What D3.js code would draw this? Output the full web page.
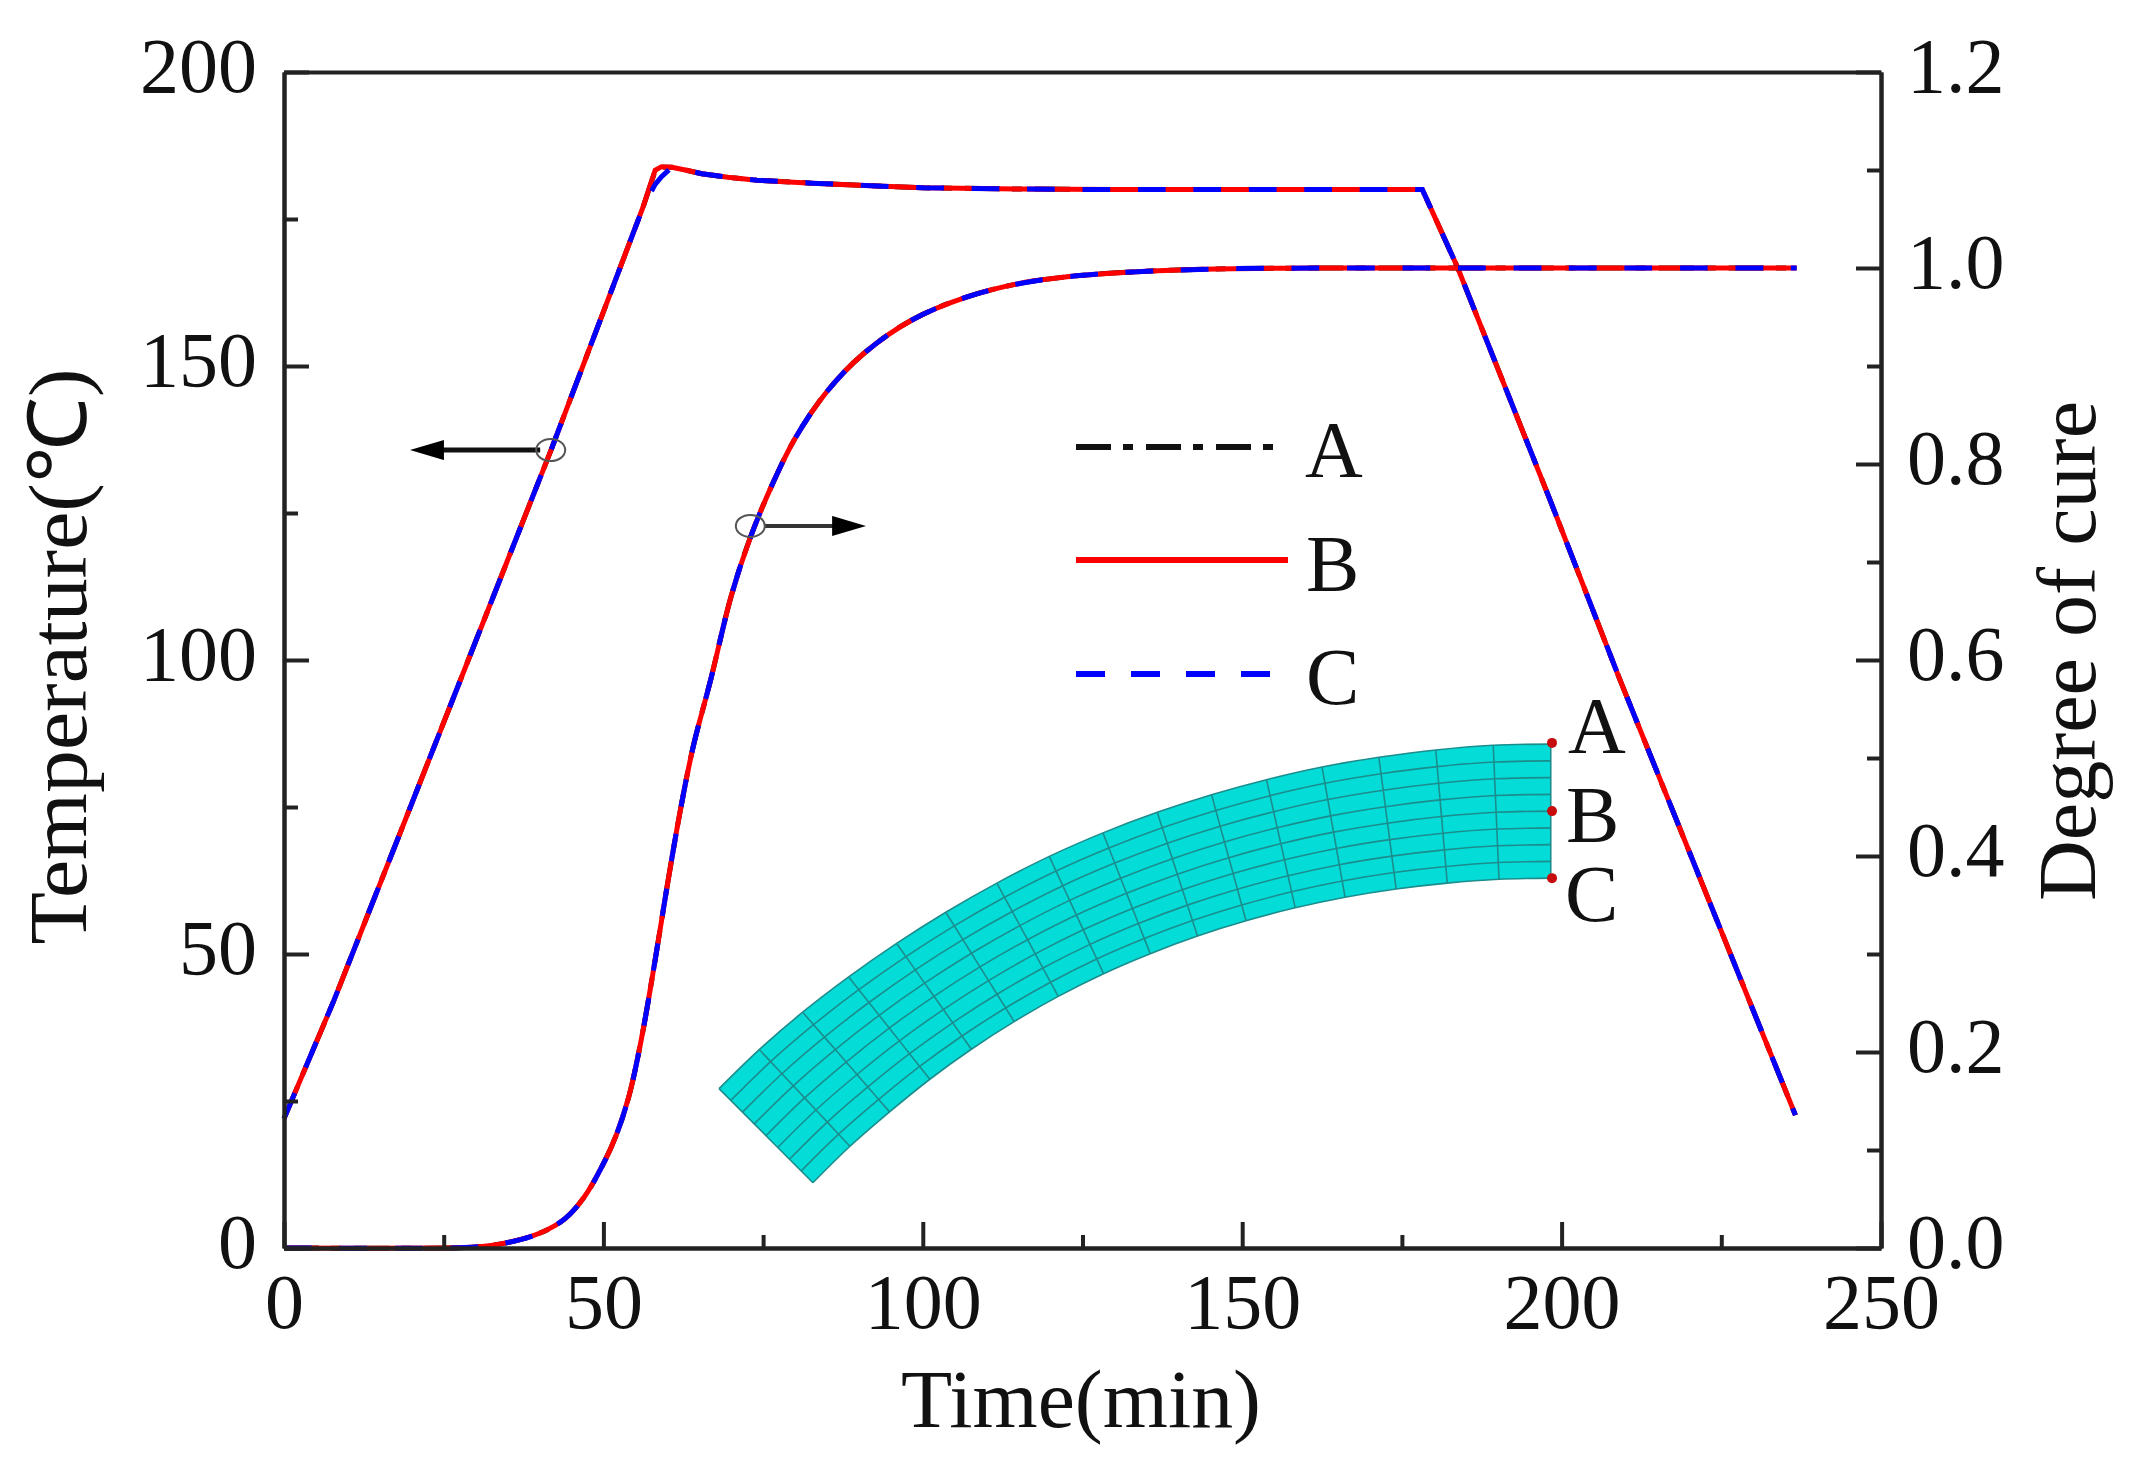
<!DOCTYPE html>
<html>
<head>
<meta charset="utf-8">
<script src="https://cdn.jsdelivr.net/npm/d3@7"></script>
<style>
  body { margin: 0; background: #fff; }
  text { font-family: "Liberation Serif", serif; fill: #111; }
</style>
</head>
<body>
<svg id="chart" width="2139" height="1476"></svg>
<script>
// temperature curves (min, deg C)
var tempTime = [0, 7.85, 20, 41.8, 56.2, 58.1, 59.1, 60.7, 63, 65.4, 69.5, 74, 82.6, 91, 100, 115, 130, 178.2, 183.7, 198.2, 209, 236.6];
var tempA = [22, 42.2, 75.6, 135.7, 177, 183.2, 183.8, 183.8, 183.3, 182.7, 182.1, 181.6, 181.1, 180.7, 180.3, 180.1, 180, 180, 166.8, 127.2, 97, 22.6];
var tempB = [22, 42.2, 75.6, 135.7, 177, 183.3, 183.9, 183.8, 183.3, 182.7, 182.1, 181.6, 181.1, 180.7, 180.3, 180.1, 180, 180, 166.8, 127.2, 97, 22.6];
var tempC = [22, 42.2, 75.6, 135.7, 177, 180.9, 182.2, 183.8, 183.3, 182.7, 182.1, 181.6, 181.1, 180.7, 180.3, 180.1, 180, 180, 166.8, 127.2, 97, 22.6];

// degree of cure curves
var cureTime = [0, 25, 30, 35, 40, 44, 47, 50, 52, 54, 56, 58, 60, 62, 64, 66.8, 70, 73, 76.5, 80, 85, 90.8, 98.3, 106.7, 115, 124, 132.8, 145.9, 165.3, 200, 236.8];
var cureA = [0, 0, 0.001, 0.0055, 0.015, 0.03, 0.052, 0.086, 0.115, 0.155, 0.215, 0.29, 0.37, 0.445, 0.51, 0.58, 0.665, 0.725, 0.78, 0.826, 0.874, 0.913, 0.947, 0.97, 0.984, 0.992, 0.996, 0.999, 1, 1, 1];
var cureB = cureA.slice();
var cureC = cureA.slice();

var seriesNames = ["A", "B", "C"];
var seriesColors = ["#111", "#ff0000", "#0000ff"];
var seriesDash = ["35 12 10 13", null, "27.7 27.74"];

// ticks
var xMajor = [0, 50, 100, 150, 200, 250];
var xMinor = [25, 75, 125, 175, 225];
var yMajor = [0, 50, 100, 150, 200];
var yMinor = [25, 75, 125, 175];
var y2Major = [0, 0.2, 0.4, 0.6, 0.8, 1.0, 1.2];
var y2Minor = [0.1, 0.3, 0.5, 0.7, 0.9, 1.1];

// inset mesh outline, in the chart's own units
var meshOuterTime = [68.1, 74.4, 81.2, 88.4, 95.9, 103.6, 111.6, 119.8, 128.2, 136.7, 145.2, 153.8, 162.5, 171.4, 180.3, 189.3, 198.3];
var meshOuterTemp = [27.1, 33.75, 40.1, 46.1, 51.8, 57.1, 62.05, 66.6, 70.6, 74.1, 77.1, 79.65, 81.8, 83.45, 84.7, 85.5, 85.7];
var meshInnerTime = [82.8, 88.6, 94.8, 101.1, 107.6, 114.3, 121.2, 128.3, 135.6, 143, 150.6, 158.3, 166.1, 174.1, 182.1, 190.2, 198.3];
var meshInnerTemp = [11.1, 17.3, 23.15, 28.7, 33.8, 38.5, 42.8, 46.65, 50.05, 53.05, 55.65, 57.85, 59.65, 61.05, 62.05, 62.7, 62.9];
var meshLayers = 8;

var pointTime = [198.5, 198.5, 198.5];
var pointTemp = [85.9, 74.3, 62.9];

var svg = d3.select("#chart");
var left = 284, right = 1881, top_ = 72, bottom = 1248;
var fontSize = 78;

var x = d3.scaleLinear().domain([0, 250]).range([left, right]);
var y = d3.scaleLinear().domain([0, 200]).range([bottom, top_]);
var y2 = d3.scaleLinear().domain([0, 1.2]).range([bottom, top_]);

// mesh goes under everything
function meshPoint(col, layer) {
    var f = layer / meshLayers;
    return [
        x(meshOuterTime[col] + (meshInnerTime[col] - meshOuterTime[col]) * f),
        y(meshOuterTemp[col] + (meshInnerTemp[col] - meshOuterTemp[col]) * f)
    ];
}

var cols = d3.range(meshOuterTime.length);
var layers = d3.range(meshLayers + 1);
var arc = d3.line().curve(d3.curveCatmullRom);
var mesh = svg.append("g").attr("class", "mesh");

var outerArc = arc(cols.map(c => meshPoint(c, 0)));
var innerArc = arc(cols.slice().reverse().map(c => meshPoint(c, meshLayers)));

mesh.append("path")
    .attr("d", outerArc + "L" + innerArc.slice(1) + "Z")
    .attr("fill", "#04dcd8");

mesh.selectAll(".layer")
    .data(layers)
    .enter()
    .append("path")
    .attr("class", "layer")
    .attr("d", l => arc(cols.map(c => meshPoint(c, l))))
    .attr("fill", "none")
    .attr("stroke", "#1b8d8d")
    .attr("stroke-width", 1.6);

mesh.selectAll(".col")
    .data(cols)
    .enter()
    .append("path")
    .attr("class", "col")
    .attr("d", c => d3.line()(layers.map(l => meshPoint(c, l))))
    .attr("fill", "none")
    .attr("stroke", "#1b8d8d")
    .attr("stroke-width", 1.6);

svg.selectAll(".node")
    .data(pointTime)
    .enter()
    .append("circle")
    .attr("class", "node")
    .attr("cx", d => x(d))
    .attr("cy", (d, i) => y(pointTemp[i]))
    .attr("r", 5)
    .attr("fill", "#c60c0c");

seriesNames.forEach((name, i) => {
    svg.append("text")
        .attr("x", x(pointTime[i]) + [16, 14, 13][i])
        .attr("y", [753, 842, 921][i])
        .attr("font-size", 80)
        .text(name);
});

// curves, A at the bottom and C on top so only red and blue show
var tempLine = d3.line().x(d => x(d[0])).y(d => y(d[1]));
var cureLine = d3.line().x(d => x(d[0])).y(d => y2(d[1])).curve(d3.curveCatmullRom);

[tempA, tempB, tempC].forEach((vals, i) => {
    svg.append("path")
        .attr("d", tempLine(tempTime.map((t, j) => [t, vals[j]])))
        .attr("fill", "none")
        .attr("stroke", seriesColors[i])
        .attr("stroke-width", 5)
        .attr("stroke-dasharray", seriesDash[i]);
});

[cureA, cureB, cureC].forEach((vals, i) => {
    svg.append("path")
        .attr("d", cureLine(cureTime.map((t, j) => [t, vals[j]])))
        .attr("fill", "none")
        .attr("stroke", seriesColors[i])
        .attr("stroke-width", 5)
        .attr("stroke-dasharray", seriesDash[i]);
});

// axes, ticks point inward
function styleAxis(g) {
    g.selectAll(".domain").attr("stroke", "#222").attr("stroke-width", 4);
    g.selectAll(".tick line").attr("stroke", "#222").attr("stroke-width", 4);
    g.selectAll("text").attr("font-size", fontSize).attr("font-family", "Liberation Serif").attr("fill", "#111");
}

var gx = svg.append("g")
    .attr("transform", "translate(0," + bottom + ")")
    .call(d3.axisBottom(x).tickValues(xMajor).tickSizeInner(-26).tickSizeOuter(0).tickFormat(d3.format("d")))
    .call(styleAxis);
gx.selectAll("text").attr("y", 80).attr("dy", 0);

svg.append("g")
    .attr("transform", "translate(0," + bottom + ")")
    .call(d3.axisBottom(x).tickValues(xMinor).tickSizeInner(-13).tickSizeOuter(0).tickFormat(""))
    .call(styleAxis);

var gy = svg.append("g")
    .attr("transform", "translate(" + left + ",0)")
    .call(d3.axisLeft(y).tickValues(yMajor).tickSizeInner(-25).tickSizeOuter(0).tickFormat(d3.format("d")))
    .call(styleAxis);
gy.selectAll("text").attr("x", -27).attr("dy", 19);

svg.append("g")
    .attr("transform", "translate(" + left + ",0)")
    .call(d3.axisLeft(y).tickValues(yMinor).tickSizeInner(-14).tickSizeOuter(0).tickFormat(""))
    .call(styleAxis);

var gy2 = svg.append("g")
    .attr("transform", "translate(" + right + ",0)")
    .call(d3.axisRight(y2).tickValues(y2Major).tickSizeInner(-25).tickSizeOuter(0).tickFormat(d3.format(".1f")))
    .call(styleAxis);
gy2.selectAll("text").attr("x", 26).attr("dy", 19);

svg.append("g")
    .attr("transform", "translate(" + right + ",0)")
    .call(d3.axisRight(y2).tickValues(y2Minor).tickSizeInner(-14).tickSizeOuter(0).tickFormat(""))
    .call(styleAxis);

svg.append("g")
    .attr("transform", "translate(0," + top_ + ")")
    .call(d3.axisTop(x).tickValues([]).tickSizeOuter(0))
    .call(styleAxis);

// axis titles
svg.append("text")
    .attr("x", 1081)
    .attr("y", 1427)
    .attr("font-size", 82)
    .attr("text-anchor", "middle")
    .attr("textLength", 360)
    .attr("lengthAdjust", "spacingAndGlyphs")
    .text("Time(min)");

svg.append("text")
    .attr("transform", "translate(86,656.5) rotate(-90)")
    .attr("font-size", 82)
    .attr("text-anchor", "middle")
    .attr("textLength", 576)
    .attr("lengthAdjust", "spacingAndGlyphs")
    .text("Temperature(℃)");

svg.append("text")
    .attr("transform", "translate(2095,651) rotate(-90)")
    .attr("font-size", 82)
    .attr("text-anchor", "middle")
    .attr("textLength", 500)
    .attr("lengthAdjust", "spacingAndGlyphs")
    .text("Degree of cure");

// legend
var legendX = 1076;
var legendLen = [199, 212, 197];
var legendY = [447, 560, 674];
var legendLabelX = [1305, 1306, 1306];
var legendBase = [477, 591, 704];

seriesNames.forEach((name, i) => {
    svg.append("line")
        .attr("x1", legendX)
        .attr("x2", legendX + legendLen[i])
        .attr("y1", legendY[i])
        .attr("y2", legendY[i])
        .attr("stroke", seriesColors[i])
        .attr("stroke-width", 6)
        .attr("stroke-dasharray", i == 2 ? "29 26" : seriesDash[i]);
    svg.append("text")
        .attr("x", legendLabelX[i])
        .attr("y", legendBase[i])
        .attr("font-size", 80)
        .text(name);
});

// the two "read this axis" arrows, the head's tip runs 20px past the line end
var arrowFrom = [[40.1, 135.7], [75.2, 122.8]];
var arrowTo = [[22.85, 135.7], [88, 122.8]];
var ringAt = [[41.75, 135.7], [73, 122.8]];

svg.append("defs").append("marker")
    .attr("id", "head")
    .attr("markerUnits", "userSpaceOnUse")
    .attr("viewBox", "0 0 34 20")
    .attr("markerWidth", 34)
    .attr("markerHeight", 20)
    .attr("refX", 14)
    .attr("refY", 10)
    .attr("orient", "auto")
    .append("path")
    .attr("d", "M0,0L34,10L0,20Z")
    .attr("fill", "#000");

arrowFrom.forEach((from, i) => {
    svg.append("line")
        .attr("x1", x(from[0]))
        .attr("y1", y(from[1]))
        .attr("x2", x(arrowTo[i][0]))
        .attr("y2", y(arrowTo[i][1]))
        .attr("stroke", i == 0 ? "#111" : "#333")
        .attr("stroke-width", i == 0 ? 5 : 4)
        .attr("marker-end", "url(#head)");
    svg.append("ellipse")
        .attr("cx", x(ringAt[i][0]))
        .attr("cy", y(ringAt[i][1]))
        .attr("rx", 14.5)
        .attr("ry", 11)
        .attr("fill", "none")
        .attr("stroke", "#555")
        .attr("stroke-width", 2);
});
</script>
</body>
</html>
